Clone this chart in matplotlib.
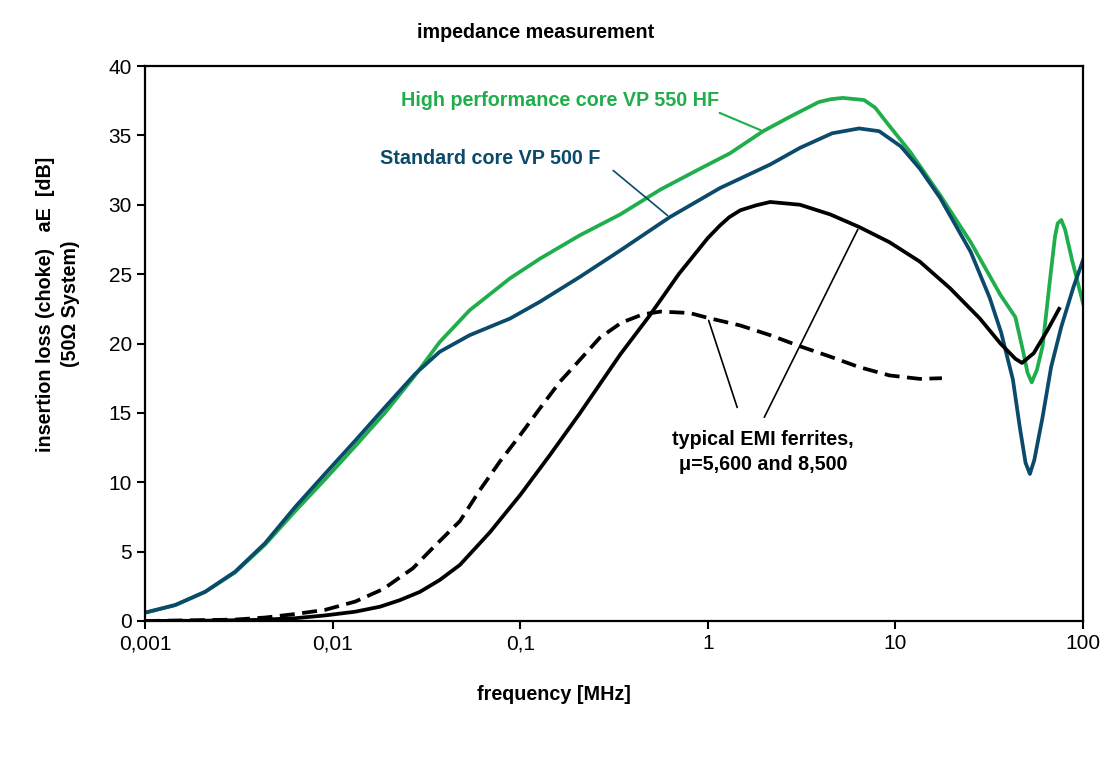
"""
Insertion loss of choke cores vs. frequency (impedance measurement).
"""

import matplotlib
matplotlib.use("Agg")
import matplotlib.pyplot as plt
from matplotlib.ticker import FixedLocator, FixedFormatter, NullLocator

# --- data -------------------------------------------------------------------
freq_hf = [0.001, 0.00145, 0.00209, 0.00302, 0.00436, 0.0063, 0.0091, 0.0132,
           0.019, 0.0275, 0.0372, 0.0538, 0.0883, 0.127, 0.208, 0.341, 0.56,
           0.91, 1.31, 1.97, 2.75, 3.9, 4.5, 5.23, 6.8, 7.8, 8.9, 12.0, 17.3,
           25.2, 36.3, 43.6, 48.2, 50.6, 53.3, 56.8, 60.9, 66.3, 70.9, 73.3,
           76.6, 80.3, 87.5, 100]
loss_hf = [0.6, 1.15, 2.1, 3.5, 5.5, 7.9, 10.2, 12.6,
           15.0, 17.7, 20.1, 22.4, 24.7, 26.1, 27.8, 29.3, 31.1,
           32.6, 33.7, 35.3, 36.35, 37.4, 37.6, 37.7, 37.55, 37.0, 36.0, 33.8, 30.7,
           27.3, 23.5, 21.9, 19.3, 17.9, 17.2, 18.1, 19.8, 24.3, 27.7, 28.66,
           28.9, 28.2, 26.0, 22.9]

freq_std = [0.001, 0.00145, 0.00209, 0.00302, 0.00436, 0.0063, 0.0091, 0.0132,
            0.019, 0.0275, 0.0372, 0.0538, 0.0883, 0.127, 0.208, 0.341, 0.626,
            1.16, 2.15, 3.1, 4.6, 6.4, 8.2, 10.7, 13.5, 17.3, 25.2, 31.8, 36.6,
            42.3, 46.0, 49.4, 52.1, 55.0, 60.9, 67.6, 76.6, 89.1, 100]
loss_std = [0.6, 1.15, 2.1, 3.55, 5.6, 8.2, 10.6, 13.0,
            15.4, 17.8, 19.4, 20.6, 21.8, 23.0, 24.8, 26.7, 29.1,
            31.2, 32.9, 34.1, 35.15, 35.5, 35.3, 34.2, 32.6, 30.5, 26.6, 23.3, 20.8,
            17.4, 14.0, 11.4, 10.6, 11.6, 14.7, 18.3, 21.2, 24.1, 26.0]

freq_emi_a = [0.001, 0.002, 0.004, 0.0063, 0.0091, 0.0132, 0.0179, 0.0228,
              0.0292, 0.0372, 0.0477, 0.069, 0.1, 0.144, 0.208, 0.341, 0.489,
              0.70, 1.0, 1.16, 1.3, 1.49, 1.8, 2.15, 3.1, 4.5, 6.4, 9.3, 13.5,
              19.5, 28.2, 36.3, 43.6, 47.3, 54.6, 64.9, 74.6]
loss_emi_a = [0.0, 0.02, 0.08, 0.2, 0.4, 0.67, 1.03, 1.5,
              2.1, 2.95, 4.04, 6.4, 9.08, 11.96, 14.97, 19.2, 22.0,
              25.0, 27.6, 28.5, 29.1, 29.6, 29.95, 30.2, 30.0, 29.3, 28.4, 27.3, 25.9,
              24.0, 21.8, 20.0, 18.9, 18.6, 19.3, 21.0, 22.5]

freq_emi_b = [0.001, 0.003, 0.00436, 0.0063, 0.0091, 0.0132, 0.0186, 0.0268,
              0.0344, 0.0477, 0.061, 0.078, 0.1, 0.127, 0.163, 0.192, 0.265,
              0.346, 0.45, 0.56, 0.80, 1.0, 1.49, 2.15, 3.1, 4.5, 6.4, 9.3, 13.5,
              17.7]
loss_emi_b = [0.0, 0.1, 0.25, 0.5, 0.8, 1.4, 2.3, 3.8,
              5.3, 7.2, 9.44, 11.5, 13.4, 15.3, 17.25, 18.3, 20.4,
              21.5, 22.1, 22.3, 22.2, 21.85, 21.3, 20.6, 19.8, 19.05, 18.3, 17.7, 17.45,
              17.5]

x_ticks = [0.001, 0.01, 0.1, 1, 10, 100]
x_tick_labels = ["0,001", "0,01", "0,1", "1", "10", "100"]
y_ticks = [0, 5, 10, 15, 20, 25, 30, 35, 40]

GREEN = "#1fae4b"
BLUE = "#0b4a6a"
W, H = 1120, 761


def fx(px):
    return px / W


def fy(py):
    return 1 - py / H


plt.rcParams["font.family"] = ["Liberation Sans", "DejaVu Sans"]

fig = plt.figure(figsize=(W / 100, H / 100), dpi=100)
ax = fig.add_axes([fx(145), fy(621), (1083 - 145) / W, (621 - 66) / H])

ax.plot(freq_hf, loss_hf, color=GREEN, linewidth=2.7, solid_joinstyle="round")
ax.plot(freq_std, loss_std, color=BLUE, linewidth=2.7, solid_joinstyle="round")
ax.plot(freq_emi_a, loss_emi_a, color="black", linewidth=2.7, solid_joinstyle="round")
ax.plot(freq_emi_b, loss_emi_b, color="black", linewidth=2.7, dashes=(4.0, 2.0))

ax.set_xscale("log")
ax.set_xlim(0.001, 100)
ax.set_ylim(0, 40)
ax.xaxis.set_major_locator(FixedLocator(x_ticks))
ax.xaxis.set_major_formatter(FixedFormatter(x_tick_labels))
ax.xaxis.set_minor_locator(NullLocator())
ax.set_yticks(y_ticks)
ax.tick_params(axis="both", direction="out", length=6, width=1.5, labelsize=15)
for s in ax.spines.values():
    s.set_linewidth(1.6)
    s.set_color("black")

# curve labels and leader lines
fs = 14.2
fig.text(fx(560), fy(101), "High performance core VP 550 HF", color=GREEN,
         fontsize=fs, fontweight="bold", ha="center", va="center")
ax.annotate("", xy=(1.97, 35.3), xytext=(1.12, 36.7),
            arrowprops=dict(arrowstyle="-", color=GREEN, lw=1.5))

fig.text(fx(490), fy(158), "Standard core VP 500 F", color=BLUE,
         fontsize=fs, fontweight="bold", ha="center", va="center")
ax.annotate("", xy=(0.626, 29.1), xytext=(0.305, 32.6),
            arrowprops=dict(arrowstyle="-", color=BLUE, lw=1.2))

fig.text(fx(763), fy(452), "typical EMI ferrites,\n\u03bc=5,600 and 8,500", color="black",
         fontsize=fs, fontweight="bold", ha="center", va="center", linespacing=1.4)
ax.annotate("", xy=(1.0, 21.85), xytext=(1.45, 15.2),
            arrowprops=dict(arrowstyle="-", color="black", lw=1.2))
ax.annotate("", xy=(6.4, 28.4), xytext=(1.97, 14.5),
            arrowprops=dict(arrowstyle="-", color="black", lw=1.2))

fig.text(fx(536), fy(33), "impedance measurement", fontsize=fs,
         fontweight="bold", ha="center", va="center")
fig.text(fx(554), fy(695), "frequency [MHz]", fontsize=fs,
         fontweight="bold", ha="center", va="center")
fig.text(fx(58), fy(304), "insertion loss (choke)   aE  [dB]\n(50\u03a9 System)",
         fontsize=fs, fontweight="bold", ha="center", va="center",
         rotation=90, multialignment="center", linespacing=1.45)

fig.savefig("out.png", dpi=100)
